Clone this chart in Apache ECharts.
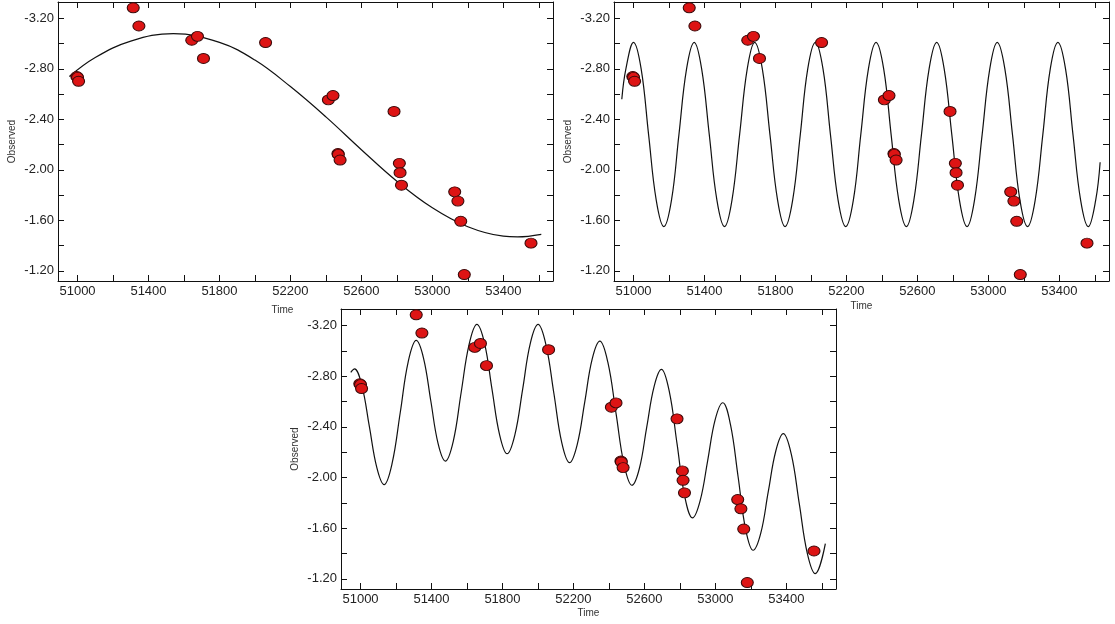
<!DOCTYPE html>
<html><head><meta charset="utf-8">
<script src="https://cdn.jsdelivr.net/npm/echarts@6/dist/echarts.min.js"></script>
<style>html,body{margin:0;padding:0;background:#fff}#c{width:1115px;height:624px}</style>
</head><body><div id="c"></div>
<script>
// Observed points (time, magnitude) - same in all three panels
const obsTime = [50996, 51000, 51006, 51314, 51346, 51644, 51676, 51710, 52060, 52414, 52440, 52468, 52470, 52480, 52784, 52814, 52818, 52826, 53126, 53144, 53160, 53180, 53556];
const obsMag  = [-2.74, -2.733, -2.702, -3.284, -3.14, -3.027, -3.058, -2.883, -3.009, -2.555, -2.589, -2.13, -2.123, -2.078, -2.463, -2.052, -1.978, -1.879, -1.826, -1.753, -1.593, -1.171, -1.42];

// Panel 1 fit: slow trend
const fitATime = [50954, 51100, 51300, 51540, 51800, 52000, 52200, 52400, 52600, 52800, 53000, 53200, 53400, 53480, 53614];
const fitAMag  = [-2.74, -2.89, -3.02, -3.08, -3.01, -2.87, -2.66, -2.42, -2.16, -1.91, -1.70, -1.55, -1.475, -1.47, -1.49];

// Panel 2 fit: fast oscillation
const fitBTime = [50934, 50957, 51000, 51043, 51085, 51128, 51171, 51214, 51256, 51299, 51342, 51384, 51427, 51470, 51513, 51555, 51598, 51641, 51683, 51726, 51769, 51812, 51854, 51897, 51940, 51982, 52025, 52068, 52110, 52153, 52196, 52239, 52281, 52324, 52367, 52410, 52452, 52495, 52538, 52580, 52623, 52666, 52709, 52751, 52794, 52837, 52880, 52922, 52965, 53008, 53050, 53093, 53136, 53178, 53221, 53264, 53307, 53349, 53392, 53435, 53477, 53520, 53563, 53605, 53630];
const fitBMag  = [-2.56, -2.80, -3.01, -2.80, -2.28, -1.76, -1.55, -1.76, -2.28, -2.80, -3.01, -2.80, -2.28, -1.76, -1.55, -1.76, -2.28, -2.80, -3.01, -2.80, -2.28, -1.76, -1.55, -1.76, -2.28, -2.80, -3.01, -2.80, -2.28, -1.76, -1.55, -1.76, -2.28, -2.80, -3.01, -2.80, -2.28, -1.76, -1.55, -1.76, -2.28, -2.80, -3.01, -2.80, -2.28, -1.76, -1.55, -1.76, -2.28, -2.80, -3.01, -2.80, -2.28, -1.76, -1.55, -1.76, -2.28, -2.80, -3.01, -2.80, -2.28, -1.76, -1.55, -1.76, -2.06];

// Panel 3 fit: trend + oscillation
const fitCTime = [50945, 50966, 51008, 51050, 51092, 51133, 51178, 51224, 51269, 51314, 51355, 51396, 51437, 51478, 51523, 51567, 51612, 51656, 51699, 51741, 51784, 51826, 51870, 51914, 51957, 52001, 52045, 52090, 52134, 52178, 52221, 52264, 52306, 52349, 52394, 52440, 52485, 52530, 52572, 52613, 52655, 52696, 52740, 52784, 52827, 52871, 52914, 52957, 52999, 53042, 53085, 53128, 53170, 53213, 53256, 53298, 53341, 53383, 53428, 53473, 53518, 53563, 53620];
const fitCMag  = [-2.83, -2.858, -2.724, -2.401, -2.078, -1.944, -2.111, -2.513, -2.915, -3.082, -2.943, -2.606, -2.269, -2.130, -2.288, -2.669, -3.050, -3.208, -3.059, -2.698, -2.337, -2.188, -2.337, -2.698, -3.059, -3.208, -3.049, -2.663, -2.277, -2.117, -2.258, -2.597, -2.936, -3.076, -2.910, -2.508, -2.106, -1.939, -2.073, -2.396, -2.719, -2.853, -2.681, -2.267, -1.853, -1.681, -1.815, -2.136, -2.457, -2.590, -2.419, -2.008, -1.597, -1.426, -1.561, -1.886, -2.211, -2.346, -2.184, -1.794, -1.404, -1.242, -1.479];

// Tick values / labels
const xTickValues  = [51000, 51200, 51400, 51600, 51800, 52000, 52200, 52400, 52600, 52800, 53000, 53200, 53400, 53600];
const xLabelValues = [51000, 51400, 51800, 52200, 52600, 53000, 53400];
const yTickValues  = [-3.2, -3.0, -2.8, -2.6, -2.4, -2.2, -2.0, -1.8, -1.6, -1.4, -1.2];
const yLabelValues = [-3.2, -2.8, -2.4, -2.0, -1.6, -1.2];
const xAxisTitle = 'Time';
const yAxisTitle = 'Observed';

const zip = (a, b) => a.map((v, i) => [v, b[i]]);
const fits = [zip(fitATime, fitAMag), zip(fitBTime, fitBMag), zip(fitCTime, fitCMag)];
const obs = zip(obsTime, obsMag);

const FONT = 'Liberation Sans';
const grids = [
  {left: 58, top: 2, width: 495, height: 279},
  {left: 614, top: 2, width: 495, height: 279},
  {left: 341, top: 309, width: 495, height: 280}
];
const timeNameGap = [24, 20, 19];
const timeNamePad = [[0, 46, 0, 0], [0, 0, 0, 0], [0, 0, 0, 0]];

const axisLineStyle = {show: true, lineStyle: {color: '#111', width: 1}};
const xAxes = [], yAxes = [], series = [];
grids.forEach((g, i) => {
  xAxes.push({
    type: 'value', gridIndex: i, position: 'bottom', min: 50890, max: 53680,
    axisLine: axisLineStyle,
    axisTick: {show: true, inside: true, length: 6, customValues: xTickValues, lineStyle: {color: '#111'}},
    axisLabel: {show: true, customValues: xLabelValues, margin: 4, formatter: v => String(v),
      fontFamily: FONT, fontSize: 13, color: '#222'},
    splitLine: {show: false},
    name: xAxisTitle, nameLocation: 'middle', nameGap: timeNameGap[i],
    nameTextStyle: {fontFamily: FONT, fontSize: 10, color: '#333', padding: timeNamePad[i]}
  });
  xAxes.push({
    type: 'value', gridIndex: i, position: 'top', min: 50890, max: 53680,
    axisLine: axisLineStyle,
    axisTick: {show: true, inside: true, length: 6, customValues: xTickValues, lineStyle: {color: '#111'}},
    axisLabel: {show: false}, splitLine: {show: false}
  });
  yAxes.push({
    type: 'value', gridIndex: i, position: 'left', inverse: true, min: -3.33, max: -1.12,
    axisLine: axisLineStyle,
    axisTick: {show: true, inside: true, length: 6, customValues: yTickValues, lineStyle: {color: '#111'}},
    axisLabel: {show: true, customValues: yLabelValues, margin: 4, formatter: v => v.toFixed(2),
      fontFamily: FONT, fontSize: 13, color: '#222'},
    splitLine: {show: false},
    name: yAxisTitle, nameLocation: 'middle', nameGap: 41, nameRotate: 90,
    nameTextStyle: {fontFamily: FONT, fontSize: 10, color: '#333'}
  });
  yAxes.push({
    type: 'value', gridIndex: i, position: 'right', inverse: true, min: -3.33, max: -1.12,
    axisLine: axisLineStyle,
    axisTick: {show: true, inside: true, length: 6, customValues: yTickValues, lineStyle: {color: '#111'}},
    axisLabel: {show: false}, splitLine: {show: false}
  });
  series.push({
    type: 'line', xAxisIndex: 2 * i, yAxisIndex: 2 * i, data: fits[i],
    smooth: 0.4, showSymbol: false, symbol: 'none', silent: true,
    lineStyle: {color: '#111', width: 1.2}, z: 2
  });
  series.push({
    type: 'scatter', xAxisIndex: 2 * i, yAxisIndex: 2 * i, data: obs,
    symbol: 'circle', symbolSize: [12, 10], clip: false,
    itemStyle: {color: '#dd1414', borderColor: '#3a0a0a', borderWidth: 1, opacity: 1}, z: 3
  });
});

const chart = echarts.init(document.getElementById('c'), null, {renderer: 'canvas'});
chart.setOption({
  backgroundColor: '#ffffff',
  animation: false,
  grid: grids,
  xAxis: xAxes,
  yAxis: yAxes,
  series: series
});
</script></body></html>
